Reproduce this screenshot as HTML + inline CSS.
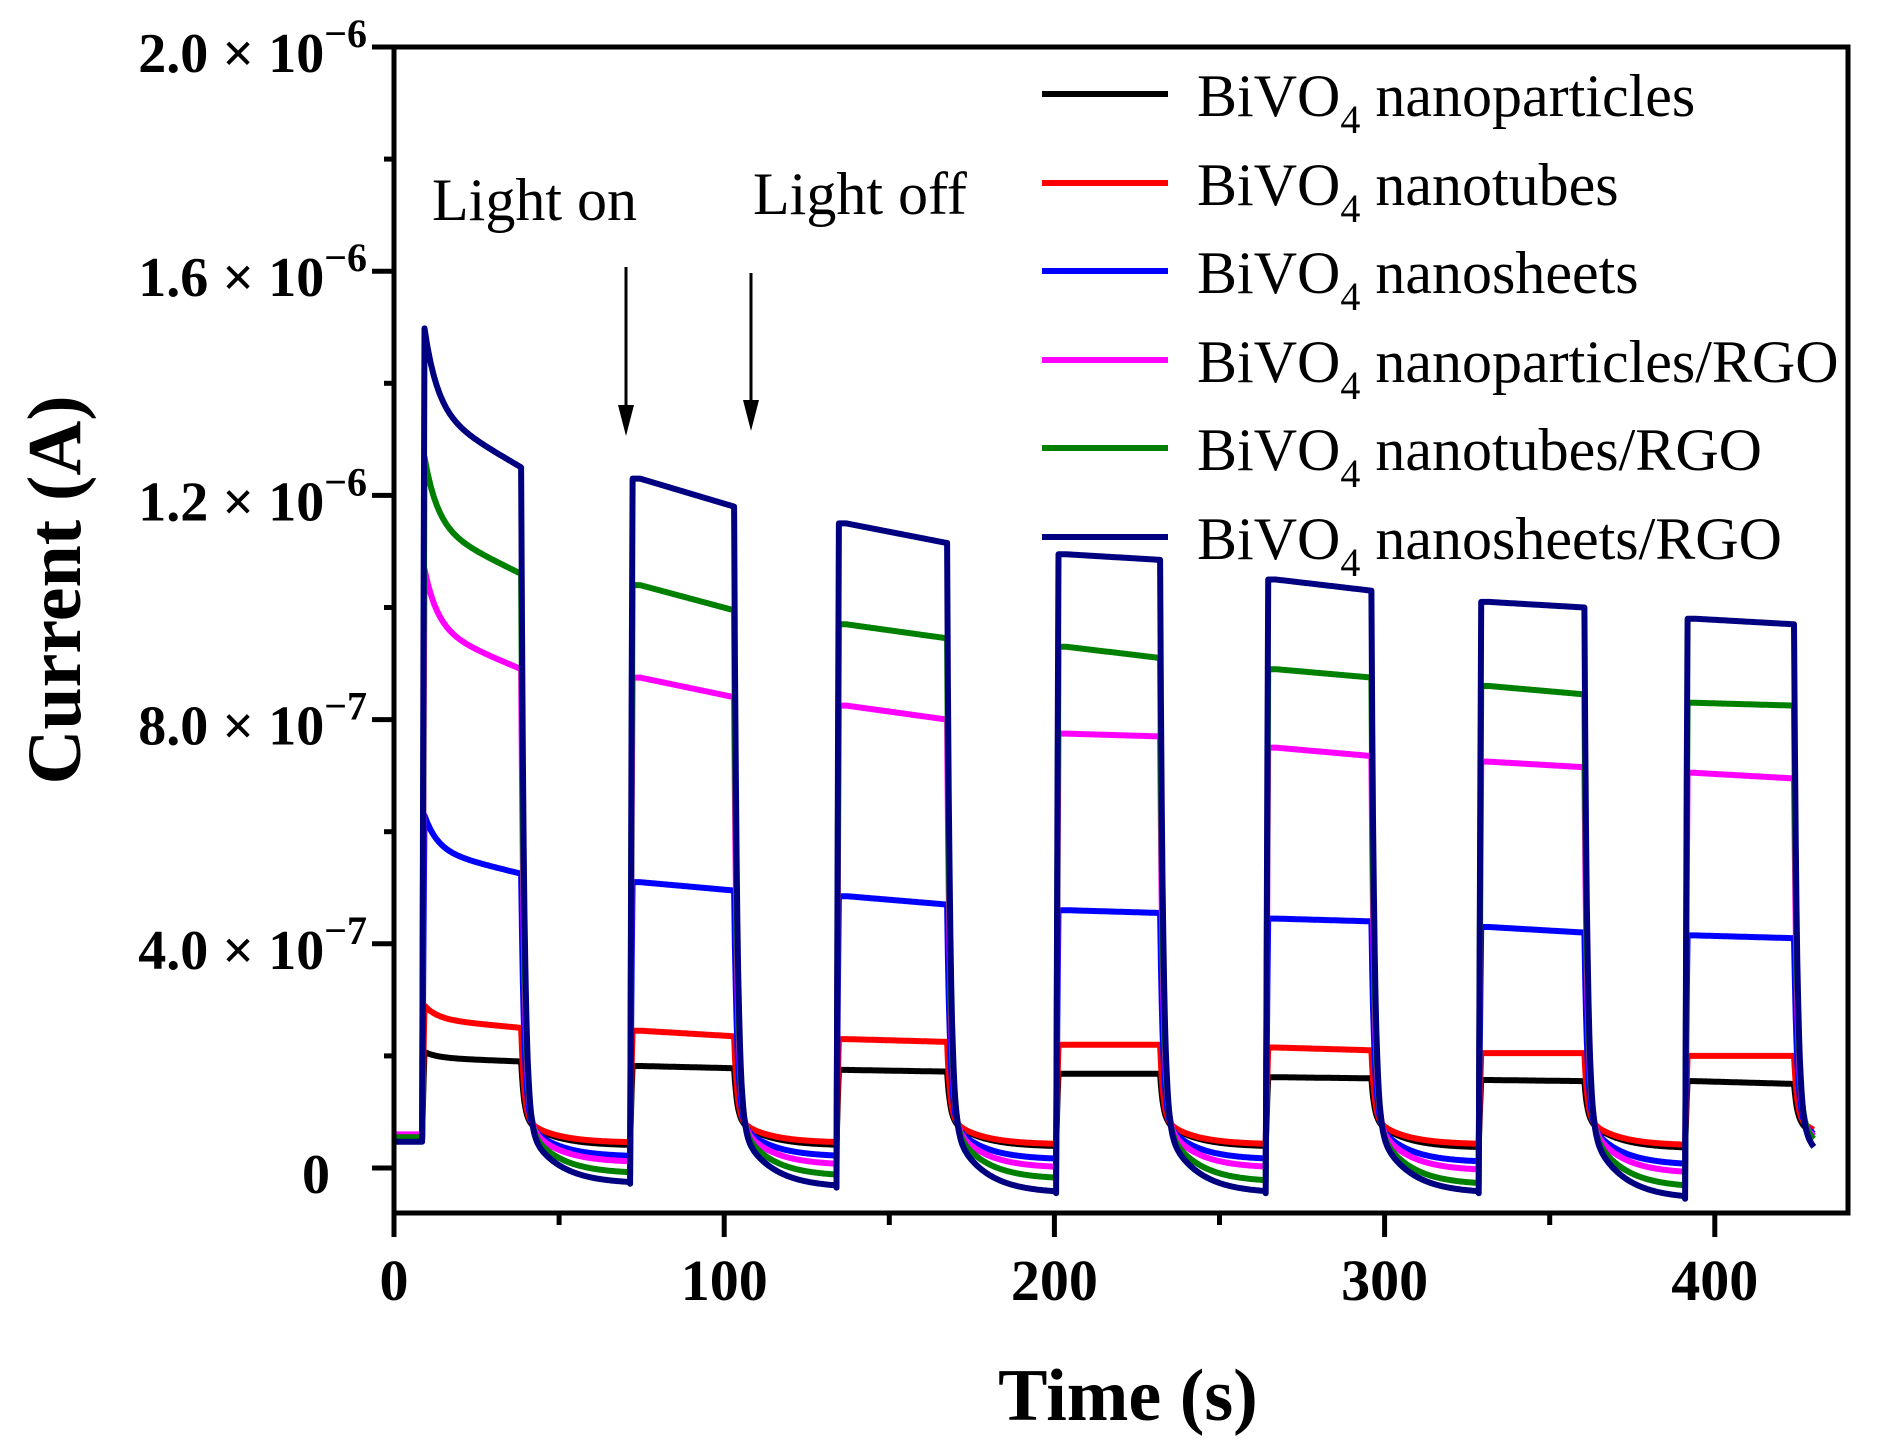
<!DOCTYPE html>
<html><head><meta charset="utf-8"><style>
html,body{margin:0;padding:0;background:#fff;}
svg{display:block;}
</style></head><body>
<svg id="chart" width="1877" height="1452" viewBox="0 0 1877 1452" xmlns="http://www.w3.org/2000/svg">
<defs><clipPath id="plotclip"><rect x="394" y="47" width="1454" height="1166"/></clipPath></defs>
<g id="series" clip-path="url(#plotclip)"></g>
<rect x="394" y="47" width="1454" height="1166" fill="none" stroke="#000" stroke-width="5"/>
<g id="axes"></g>
<g font-family="'Liberation Serif', serif" font-size="60" fill="#000">
<text x="432" y="220">Light on</text>
<text x="753" y="214">Light off</text>
</g>
<g stroke="#000" stroke-width="3">
<line x1="626" y1="267" x2="626" y2="415"/>
<polygon points="618,405 634,405 626,436" fill="#000" stroke="none"/>
<line x1="751" y1="273" x2="751" y2="410"/>
<polygon points="743,400 759,400 751,431" fill="#000" stroke="none"/>
</g>
<text x="1128" y="1420" text-anchor="middle" font-family="'Liberation Serif', serif" font-weight="bold" font-size="74">Time (s)</text>
<text transform="translate(80,590) rotate(-90)" text-anchor="middle" font-family="'Liberation Serif', serif" font-weight="bold" font-size="76">Current (A)</text>
<g id="legend" font-family="'Liberation Serif', serif" font-size="60"></g>
</svg>
<script>
// ---- data (current in units of 1e-7 A, time in s) ----
const seriesNames = ["BiVO4 nanoparticles","BiVO4 nanotubes","BiVO4 nanosheets","BiVO4 nanoparticles/RGO","BiVO4 nanotubes/RGO","BiVO4 nanosheets/RGO"];
const seriesColors = ["#000000","#ff0000","#0000ff","#ff00ff","#008000","#000080"];
const onTimes = [8.5,71.5,134,200.5,264,328.5,391];
const offTimes = [38.5,103,167.5,232,296,360.5,424];
const endTime = 430;
const initDark = [0.55,0.55,0.5,0.6,0.55,0.47];
const onStart = [
 [2.07,1.82,1.75,1.68,1.62,1.57,1.55],
 [2.9,2.45,2.3,2.2,2.15,2.05,2.0],
 [6.3,5.1,4.85,4.6,4.45,4.3,4.15],
 [10.7,8.75,8.25,7.75,7.5,7.25,7.05],
 [12.7,10.4,9.7,9.3,8.9,8.6,8.3],
 [15.0,12.3,11.5,10.95,10.5,10.1,9.8]
];
const onEnd = [
 [1.9,1.78,1.72,1.68,1.6,1.55,1.5],
 [2.5,2.35,2.25,2.2,2.1,2.05,2.0],
 [5.25,4.95,4.7,4.55,4.4,4.2,4.1],
 [8.9,8.4,8.0,7.7,7.35,7.15,6.95],
 [10.6,9.95,9.45,9.1,8.75,8.45,8.25],
 [12.5,11.8,11.15,10.85,10.3,10.0,9.7]
];
const darkEnd = [
 [0.4,0.4,0.38,0.38,0.36,0.35,0.3],
 [0.45,0.45,0.42,0.42,0.42,0.4,0.45],
 [0.2,0.2,0.15,0.15,0.1,0.05,0.3],
 [0.1,0.05,0.0,0.0,-0.05,-0.1,0.2],
 [-0.1,-0.15,-0.2,-0.25,-0.3,-0.35,0.1],
 [-0.28,-0.35,-0.45,-0.45,-0.45,-0.55,-0.2]
];
const xTicks = [0,100,200,300,400];
const yTickVals = [0,4,8,12,16,20];
const yTickMant = ["0","4.0","8.0","1.2","1.6","2.0"];
const yTickExp = ["","−7","−7","−6","−6","−6"];

// ---- scales ----
const X0=394, XS=3.302, Y0=1168, YS=56.05;
const sx = t => X0 + t*XS;
const sy = v => Y0 - v*YS;
const NS="http://www.w3.org/2000/svg";

function valueAt(s,t){
  if(t<onTimes[0]) return initDark[s];
  for(let i=0;i<onTimes.length;i++){
    const on=onTimes[i], off=offTimes[i];
    const nextOn = i+1<onTimes.length?onTimes[i+1]:Infinity;
    if(t>=on && t<off){
      const dt=t-on, D=off-on, a=onStart[s][i], b=onEnd[s][i];
      if(dt<0.7){ const prev = i===0?initDark[s]:darkEnd[s][i-1]; return prev+(a-prev)*(dt/0.7); }
      if(i===0) return b+(a-b)*(0.6*Math.exp(-(dt-0.7)/4)+0.4*(1-(dt-0.7)/(D-0.7)));
      if(dt<3) return a;
      return a+(b-a)*((dt-3)/(D-3));
    }
    if(t>=off && t<nextOn){
      const dt=t-off, e=onEnd[s][i], d=darkEnd[s][i];
      const A=Math.max(0.9-d,0.05);
      return d + A*Math.exp(-dt/9) + (e-d-A)*Math.exp(-dt/0.9);
    }
  }
  return darkEnd[s][darkEnd[s].length-1];
}

const g=document.getElementById('series');
for(let s=0;s<seriesNames.length;s++){
  let d="";
  for(let t=0;t<=endTime;t+=0.25){
    d+=(t===0?"M":"L")+sx(t).toFixed(1)+","+sy(valueAt(s,t)).toFixed(1);
  }
  const p=document.createElementNS(NS,'path');
  p.setAttribute('d',d);
  p.setAttribute('fill','none');
  p.setAttribute('stroke',seriesColors[s]);
  p.setAttribute('stroke-width','6');
  p.setAttribute('stroke-linejoin','round');
  
  
  g.appendChild(p);
}

// ---- axes ----
const ax=document.getElementById('axes');
function line(x1,y1,x2,y2,name){
  const l=document.createElementNS(NS,'line');
  l.setAttribute('x1',x1);l.setAttribute('y1',y1);l.setAttribute('x2',x2);l.setAttribute('y2',y2);
  l.setAttribute('stroke','#000');l.setAttribute('stroke-width','5');
  
  
  ax.appendChild(l);
}
for(let t=0;t<=440;t+=50){
  const major = t%100===0;
  line(sx(t),1213,sx(t),1213+(major?24:12),'x-tick');
}
xTicks.forEach(t=>{
  const tx=document.createElementNS(NS,'text');
  tx.setAttribute('x',sx(t));tx.setAttribute('y',1300);
  tx.setAttribute('text-anchor','middle');
  tx.setAttribute('font-family',"'Liberation Serif', serif");
  tx.setAttribute('font-weight','bold');tx.setAttribute('font-size','58');
  tx.textContent=t;
  
  
  ax.appendChild(tx);
});
for(let v=0;v<=20;v+=2){
  const major = v%4===0;
  line(394,sy(v),394-(major?22:10),sy(v),'y-tick');
}
yTickVals.forEach((v,i)=>{
  const tx=document.createElementNS(NS,'text');
  tx.setAttribute('x',367);tx.setAttribute('y',sy(v)+25);
  tx.setAttribute('text-anchor','end');
  tx.setAttribute('font-family',"'Liberation Serif', serif");
  tx.setAttribute('font-weight','bold');tx.setAttribute('font-size','56');
  if(yTickExp[i]===""){
    tx.setAttribute('x',330);
    tx.textContent=yTickMant[i];
  } else {
    tx.textContent=yTickMant[i]+" × 10";
    const sp=document.createElementNS(NS,'tspan');
    sp.setAttribute('dy','-25');sp.setAttribute('font-size','40');
    sp.textContent=yTickExp[i];
    tx.appendChild(sp);
  }
  
  
  ax.appendChild(tx);
});

// ---- legend ----
const lg=document.getElementById('legend');
const legendY=[94,183,271,360,448,537];
const legendSuffix=[" nanoparticles"," nanotubes"," nanosheets"," nanoparticles/RGO"," nanotubes/RGO"," nanosheets/RGO"];
for(let s=0;s<seriesNames.length;s++){
  const y=legendY[s];
  const l=document.createElementNS(NS,'line');
  l.setAttribute('x1',1042);l.setAttribute('x2',1168);l.setAttribute('y1',y);l.setAttribute('y2',y);
  l.setAttribute('stroke',seriesColors[s]);l.setAttribute('stroke-width','6');
  
  
  lg.appendChild(l);
  const tx=document.createElementNS(NS,'text');
  tx.setAttribute('x',1197);tx.setAttribute('y',y+22);
  tx.appendChild(document.createTextNode("BiVO"));
  const sub=document.createElementNS(NS,'tspan');
  sub.setAttribute('dy','17');sub.setAttribute('font-size','40');sub.textContent="4";
  tx.appendChild(sub);
  const rest=document.createElementNS(NS,'tspan');
  rest.setAttribute('dy','-17');rest.textContent=legendSuffix[s];
  tx.appendChild(rest);
  
  
  lg.appendChild(tx);
}
</script>
</body></html>
